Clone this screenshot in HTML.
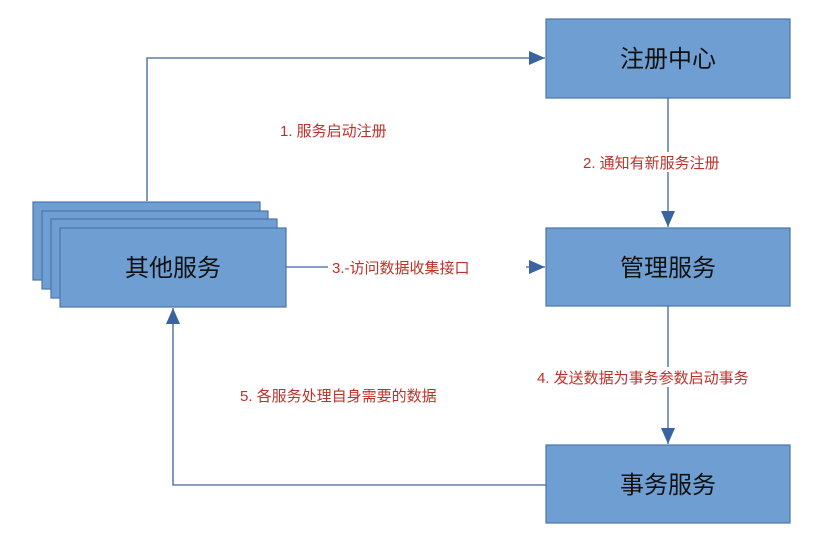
<!DOCTYPE html>
<html><head><meta charset="utf-8"><style>
body{margin:0;background:#fff;}
svg text{font-family:"Liberation Sans","Noto Sans CJK SC",sans-serif;}
</style></head><body>
<svg width="838" height="553" viewBox="0 0 838 553" xmlns="http://www.w3.org/2000/svg">
<defs><marker id="a" markerWidth="10" markerHeight="10" refX="9" refY="5" orient="auto" markerUnits="userSpaceOnUse"><path d="M0,0 L10,5 L0,10 z" fill="#3a64a0"/></marker>
<marker id="b" viewBox="0 0 16 14" markerWidth="16" markerHeight="14" refX="16" refY="7" orient="auto" markerUnits="userSpaceOnUse"><path d="M0,0 L16,7 L0,14 z" fill="#3a64a0"/></marker></defs>
<g stroke="#3a64a0" stroke-width="1.3" fill="none">
<polyline points="147,201 147,58 545,58" marker-end="url(#b)"/>
<line x1="668" y1="98" x2="668" y2="227" marker-end="url(#b)"/>
<line x1="286" y1="267" x2="545" y2="267" marker-end="url(#b)"/>
<line x1="668" y1="306" x2="668" y2="444" marker-end="url(#b)"/>
<polyline points="546,485 173,485 173,308" marker-end="url(#b)"/>
</g>
<g fill="#6f9fd2" stroke="#4a74aa" stroke-width="1.2">
<rect x="33" y="202" width="227" height="78"/>
<rect x="42" y="211" width="226" height="78"/>
<rect x="51" y="219" width="226" height="79"/>
<rect x="60" y="228" width="226" height="79"/>
<rect x="546" y="19" width="244" height="79"/>
<rect x="546" y="228" width="244" height="78"/>
<rect x="546" y="445" width="244" height="78"/>
</g>
<g font-size="24" fill="#111" text-anchor="middle">
<text x="173" y="276">其他服务</text>
<text x="668" y="67">注册中心</text>
<text x="668" y="276">管理服务</text>
<text x="668" y="493">事务服务</text>
</g>
<g fill="#fff">
<rect x="328" y="258" width="198" height="18"/>
<rect x="580" y="152" width="172" height="20"/>
<rect x="535" y="367" width="264" height="20"/>
</g>
<g font-size="15" fill="#c0302a">
<text x="280" y="136">1. 服务启动注册</text>
<text x="583" y="168">2. 通知有新服务注册</text>
<text x="332" y="273">3.-访问数据收集接口</text>
<text x="537" y="383">4. 发送数据为事务参数启动事务</text>
<text x="240" y="401">5. 各服务处理自身需要的数据</text>
</g>
</svg>
</body></html>
